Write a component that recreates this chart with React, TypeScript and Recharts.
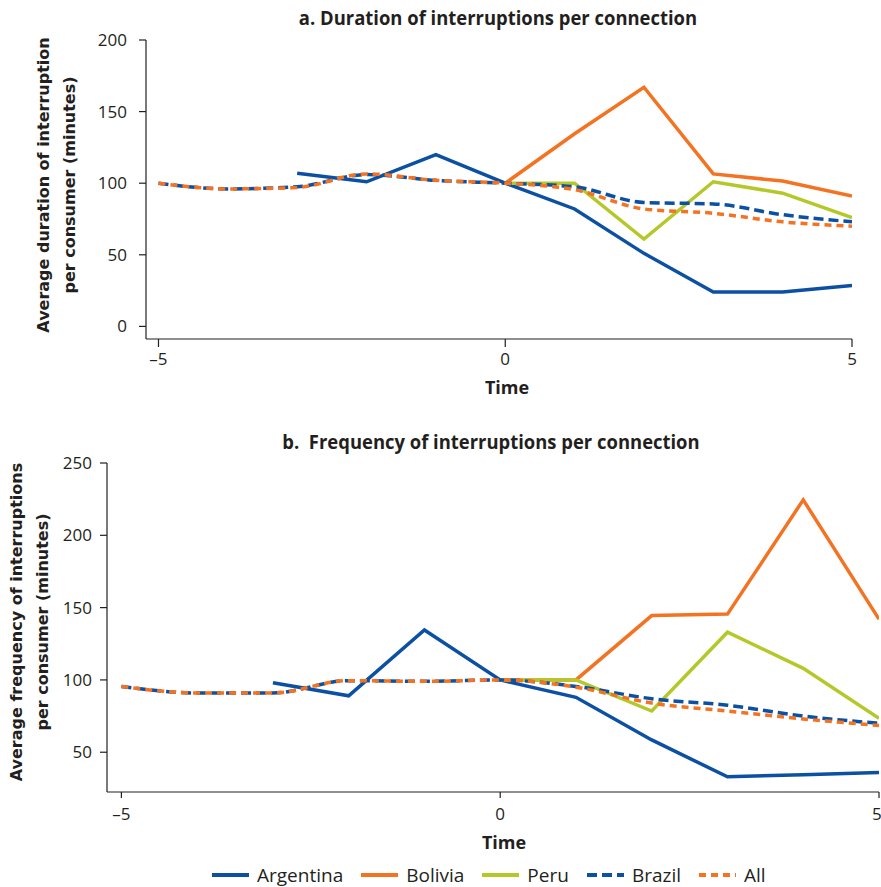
import React from "react";
import { LineChart, Line, XAxis, YAxis, Legend, Label } from "recharts";

const times = [-5, -4, -3, -2, -1, 0, 1, 2, 3, 4, 5];

// a. duration
const durArgentina = [null, null, 107, 101, 120, 100, 82, 51, 24, 24, 28.5];
const durBolivia = [null, null, null, null, null, 100, 134.5, 167, 106.5, 101.5, 91];
const durPeru = [null, null, null, null, null, 100, 100, 61, 101, 93, 76];
const durBrazil = [100, 96, 97.5, 106, 102, 100, 97.5, 86.5, 85.5, 78, 73];
const durAll = [100, 96, 97, 106.5, 102, 100, 95.5, 82, 79, 73, 70];

// b. frequency
const freqArgentina = [null, null, 98, 89, 134.5, 100, 88, 58.5, 33, 34.5, 36];
const freqBolivia = [null, null, null, null, null, 100, 100, 144.5, 145.5, 224.5, 142];
const freqPeru = [null, null, null, null, null, 100, 100, 78.5, 133, 108, 73.5];
const freqBrazil = [95.5, 91, 91, 99.5, 99, 100, 95.5, 87, 82.5, 75, 70];
const freqAll = [95.5, 91, 91, 99.5, 99, 100, 95, 84, 78.5, 73, 68.5];

const xTicks = [-5, 0, 5];
const durTicks = [0, 50, 100, 150, 200];
const freqTicks = [50, 100, 150, 200, 250];

const series = [
  { key: "argentina", name: "Argentina", color: "#0b50a2", dash: undefined, curve: "linear" },
  { key: "bolivia", name: "Bolivia", color: "#f37322", dash: undefined, curve: "linear" },
  { key: "peru", name: "Peru", color: "#b5c82a", dash: undefined, curve: "linear" },
  { key: "brazil", name: "Brazil", color: "#0b50a2", dash: "10 5", curve: "monotone" },
  { key: "all", name: "All", color: "#f37322", dash: "7 5", curve: "monotone" },
];

const durData = times.map((t, i) => ({
  t,
  argentina: durArgentina[i],
  bolivia: durBolivia[i],
  peru: durPeru[i],
  brazil: durBrazil[i],
  all: durAll[i],
}));

const freqData = times.map((t, i) => ({
  t,
  argentina: freqArgentina[i],
  bolivia: freqBolivia[i],
  peru: freqPeru[i],
  brazil: freqBrazil[i],
  all: freqAll[i],
}));

const ink = "#231f20";
const tickFont = { fill: ink, fontSize: 17, fontFamily: "Open Sans" };
const fmtX = (v: number) => (v < 0 ? `\u2013${Math.abs(v)}` : `${v}`);

function YTitle({ x1, x2, cy, l1, l2 }: { x1: number; x2: number; cy: number; l1: string; l2: string }) {
  const st = { fontFamily: "DejaVu Sans", fontWeight: 700, fontSize: 16, fill: ink };
  return (
    <g>
      <text x={x1} y={cy} transform={`rotate(-90 ${x1} ${cy})`} textAnchor="middle" dominantBaseline="central" style={st}>
        {l1}
      </text>
      <text x={x2} y={cy} transform={`rotate(-90 ${x2} ${cy})`} textAnchor="middle" dominantBaseline="central" style={st}>
        {l2}
      </text>
    </g>
  );
}

function LegendBox() {
  return (
    <div style={{ height: 30, display: "flex", alignItems: "flex-end", paddingLeft: 212, boxSizing: "border-box" }}>
      {series.map((s) => (
        <div key={s.key} style={{ display: "flex", alignItems: "center", marginRight: 18 }}>
          <svg width={37} height={6} style={{ marginRight: 8 }}>
            <line x1={0} y1={3} x2={37} y2={3} stroke={s.color} strokeWidth={4} strokeDasharray={s.dash} />
          </svg>
          <span style={{ fontFamily: "Open Sans", fontSize: 19, color: ink, lineHeight: "24px" }}>{s.name}</span>
        </div>
      ))}
    </div>
  );
}

function Title({ text, cx, cy }: { text: string; cx: number; cy: number }) {
  return (
    <div
      style={{
        position: "absolute",
        left: cx,
        top: cy,
        transform: "translate(-50%, -50%) scaleX(0.97)",
        whiteSpace: "pre",
        fontFamily: "Open Sans",
        fontWeight: 700,
        fontSize: 19,
        color: ink,
      }}
    >
      {text}
    </div>
  );
}

function lines() {
  return series.map((s) => (
    <Line
      key={s.key}
      type={s.curve as any}
      dataKey={s.key}
      name={s.name}
      stroke={s.color}
      strokeWidth={3.5}
      strokeDasharray={s.dash}
      dot={false}
      activeDot={false}
      isAnimationActive={false}
    />
  ));
}

export default function App() {
  return (
    <div style={{ position: "absolute", left: 0, top: 0, width: 881, height: 887, background: "#fff", overflow: "hidden" }}>
      <Title text="a. Duration of interruptions per connection" cx={498} cy={18} />
      <div style={{ position: "absolute", left: 0, top: 0 }}>
        <LineChart width={881} height={420} data={durData} margin={{ top: 40, right: 29, bottom: 21, left: 0 }}>
          <XAxis
            dataKey="t"
            type="number"
            domain={[-5.18, 5]}
            ticks={xTicks}
            tickFormatter={fmtX}
            allowDataOverflow
            height={60}
            tickSize={8}
            tickMargin={6}
            tick={tickFont}
            stroke={ink}
            strokeWidth={1.2}
          >
            <Label value="Time" position="insideBottom" offset={5} dx={8} style={{ fontFamily: "Open Sans", fontWeight: 700, fontSize: 18, fill: ink }} />
          </XAxis>
          <YAxis
            type="number"
            domain={[-8.8, 200]}
            ticks={durTicks}
            allowDataOverflow
            width={146}
            tickSize={7}
            tickMargin={12}
            tick={tickFont}
            stroke={ink}
            strokeWidth={1.2}
          >
            <Label
              content={() => (
                <YTitle x1={43} x2={69} cy={185} l1="Average duration of interruption" l2="per consumer (minutes)" />
              )}
            />
          </YAxis>
          {lines()}
        </LineChart>
      </div>
      <Title text="b.  Frequency of interruptions per connection" cx={491} cy={442} />
      <div style={{ position: "absolute", left: 0, top: 420 }}>
        <LineChart width={881} height={467} data={freqData} margin={{ top: 43, right: 2, bottom: 0, left: 0 }}>
          <XAxis
            dataKey="t"
            type="number"
            domain={[-5.19, 5]}
            ticks={xTicks}
            tickFormatter={fmtX}
            allowDataOverflow
            height={65}
            tickSize={6}
            tickMargin={10}
            tick={tickFont}
            stroke={ink}
            strokeWidth={1.2}
          >
            <Label value="Time" position="insideBottom" offset={8} dx={11} style={{ fontFamily: "Open Sans", fontWeight: 700, fontSize: 18, fill: ink }} />
          </XAxis>
          <YAxis
            type="number"
            domain={[22.5, 250]}
            ticks={freqTicks}
            allowDataOverflow
            width={107}
            tickSize={7}
            tickMargin={8}
            tick={tickFont}
            stroke={ink}
            strokeWidth={1.2}
          >
            <Label
              content={() => (
                <YTitle x1={16} x2={42} cy={202} l1="Average frequency of interruptions" l2="per consumer (minutes)" />
              )}
            />
          </YAxis>
          {lines()}
          <Legend verticalAlign="bottom" height={30} content={() => <LegendBox />} />
        </LineChart>
      </div>
    </div>
  );
}
